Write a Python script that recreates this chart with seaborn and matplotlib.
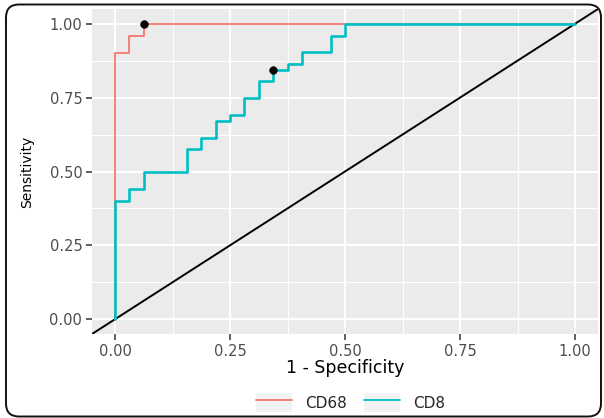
import numpy as np
import pandas as pd
import matplotlib
matplotlib.use("Agg")
import matplotlib.pyplot as plt
import seaborn as sns
from matplotlib.patches import FancyBboxPatch, Patch
from matplotlib.lines import Line2D
from matplotlib.legend_handler import HandlerTuple

# ---- data ----
cd68_fpr = [0.0, 0.0, 0.03125, 0.0625, 1.0]
cd68_tpr = [0.0, 0.90, 0.96, 1.0, 1.0]

cd8_fpr = [0.0, 0.0, 0.03125, 0.0625, 0.15625, 0.1875, 0.21875, 0.25, 0.28125,
           0.3125, 0.34375, 0.375, 0.40625, 0.46875, 0.5, 1.0]
cd8_tpr = [0.0, 0.40, 0.44, 0.50, 0.576, 0.615, 0.672, 0.69, 0.748,
           0.808, 0.844, 0.863, 0.903, 0.96, 1.0, 1.0]

best_fpr = [0.0625, 0.34375]
best_tpr = [1.0, 0.844]

series_names = ["CD68", "CD8"]
colors = {"CD68": "#F8766D", "CD8": "#00BFC4"}
ticks = [0.0, 0.25, 0.5, 0.75, 1.0]
tick_labels = ["0.00", "0.25", "0.50", "0.75", "1.00"]

df68 = pd.DataFrame({"fpr": cd68_fpr, "tpr": cd68_tpr, "marker": "CD68"})
df8 = pd.DataFrame({"fpr": cd8_fpr, "tpr": cd8_tpr, "marker": "CD8"})
dfbest = pd.DataFrame({"fpr": best_fpr, "tpr": best_tpr})

sns.set_theme(style="darkgrid")
plt.rcParams["font.family"] = ["DejaVu Sans"]

fig = plt.figure(figsize=(6.04, 4.18), dpi=100)
fig.patch.set_facecolor("white")
ax = fig.add_axes([92 / 604, 1 - 334 / 418, (598 - 92) / 604, (334 - 9) / 418])
ax.set_facecolor("#EBEBEB")

# diagonal reference
ax.axline((0, 0), (1, 1), color="black", lw=1.4, zorder=2)

sns.lineplot(data=df68, x="fpr", y="tpr", sort=False, estimator=None,
             color=colors["CD68"], lw=1.3, drawstyle="steps-post", ax=ax,
             legend=False, zorder=3)
sns.lineplot(data=df8, x="fpr", y="tpr", sort=False, estimator=None,
             color=colors["CD8"], lw=1.9, drawstyle="steps-post", ax=ax,
             legend=False, zorder=4)
sns.scatterplot(data=dfbest, x="fpr", y="tpr", color="black", s=30,
                edgecolor="black", linewidth=0.5, ax=ax, zorder=5)

ax.set_xlim(-0.05, 1.05)
ax.set_ylim(-0.05, 1.05)
ax.set_xticks(ticks)
ax.set_xticklabels(tick_labels)
ax.set_yticks(ticks)
ax.set_yticklabels(tick_labels)
minor = [0.125, 0.375, 0.625, 0.875]
ax.set_xticks(minor, minor=True)
ax.set_yticks(minor, minor=True)
ax.grid(which="major", color="white", lw=1.4)
ax.grid(which="minor", color="white", lw=0.7)
ax.set_axisbelow(True)
for s in ax.spines.values():
    s.set_visible(False)
ax.tick_params(which="major", length=4, width=1.1, color="#333333",
               labelcolor="#4D4D4D", labelsize=10.5, pad=3,
               bottom=True, left=True)
ax.tick_params(which="minor", length=0)

ax.set_xlabel("1 - Specificity", fontsize=12.5, color="black", labelpad=0)
ax.set_ylabel("Sensitivity", fontsize=10, color="black", labelpad=11)

# legend
handles = [(Patch(facecolor="#F2F2F2", edgecolor="none"),
            Line2D([0], [0], color=colors[n], lw=1.3)) for n in series_names]
leg = fig.legend(handles, series_names, loc="center",
                 bbox_to_anchor=(350.5 / 604, 1 - 402.5 / 418), ncol=2,
                 frameon=False, fontsize=11, handlelength=2.35,
                 handleheight=1.5, handletextpad=0.85, columnspacing=1.1,
                 handler_map={tuple: HandlerTuple(ndivide=1)})

# rounded outer border
border = FancyBboxPatch((0.06, 0.015), 5.95, 4.12,
                        boxstyle="round,pad=0,rounding_size=0.13",
                        transform=fig.dpi_scale_trans, facecolor="none",
                        edgecolor="#111111", lw=1.4, zorder=0)
fig.patches.append(border)

fig.savefig("out.png", dpi=100)
